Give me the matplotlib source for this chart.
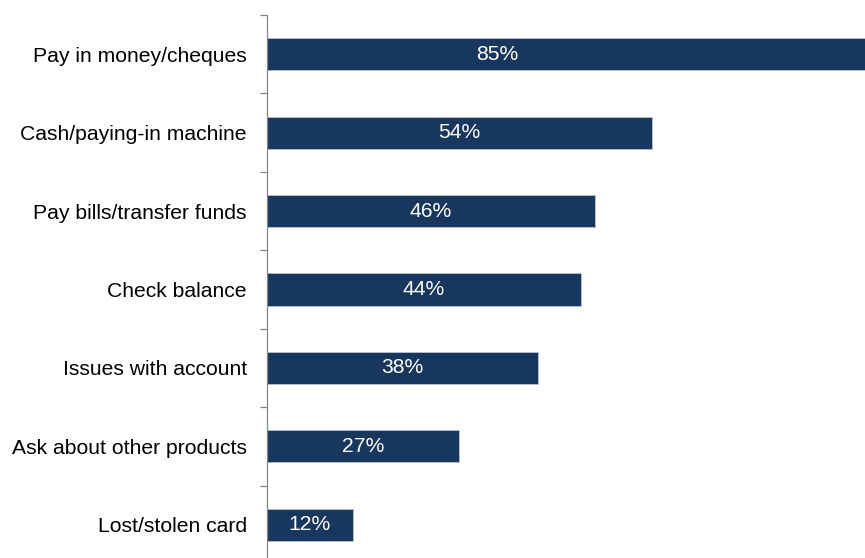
import matplotlib.pyplot as plt

plt.rcParams['font.family'] = ['Liberation Sans', 'DejaVu Sans']

reasons = ['Pay in money/cheques', 'Cash/paying-in machine', 'Pay bills/transfer funds',
           'Check balance', 'Issues with account', 'Ask about other products',
           'Lost/stolen card']
shares = [85, 54, 46, 44, 38, 27, 12]

navy = '#17375e'
grey = '#868686'

fig = plt.figure(figsize=(8.65, 5.58), dpi=100)
ax = fig.add_axes([0.3087, -0.0108, 0.6913, 0.9839])

pos = list(range(len(reasons)))
ax.barh(pos, shares, height=0.41, color=navy, edgecolor='#b4bfcc', linewidth=0.7)

xmax = 83.9
ax.set_xlim(0, xmax)
ax.set_ylim(len(reasons) - 0.5, -0.5)

for p, v in zip(pos, shares):
    if v > xmax:
        # long bar runs off the edge, keep its label inside the visible part
        ax.text(0.385, p, f'{v}%', transform=ax.get_yaxis_transform(),
                ha='center', va='center', color='white', fontsize=15.2)
    else:
        ax.text(v / 2, p, f'{v}%', ha='center', va='center', color='white', fontsize=15.2)

# ticks sit between categories on the left axis
ax.set_yticks([p - 0.5 for p in pos] + [len(pos) - 0.5])
ax.set_yticklabels([])
ax.set_yticks(pos, minor=True)
ax.set_yticklabels(reasons, minor=True, fontsize=15.2)
ax.tick_params(axis='y', which='major', length=5, width=0.9, color=grey, direction='out')
ax.tick_params(axis='y', which='minor', length=0, pad=14.5)
ax.set_xticks([])

for side in ['top', 'right', 'bottom']:
    ax.spines[side].set_visible(False)
ax.spines['left'].set_color(grey)
ax.spines['left'].set_linewidth(0.9)

fig.savefig('out.png', dpi=100)
